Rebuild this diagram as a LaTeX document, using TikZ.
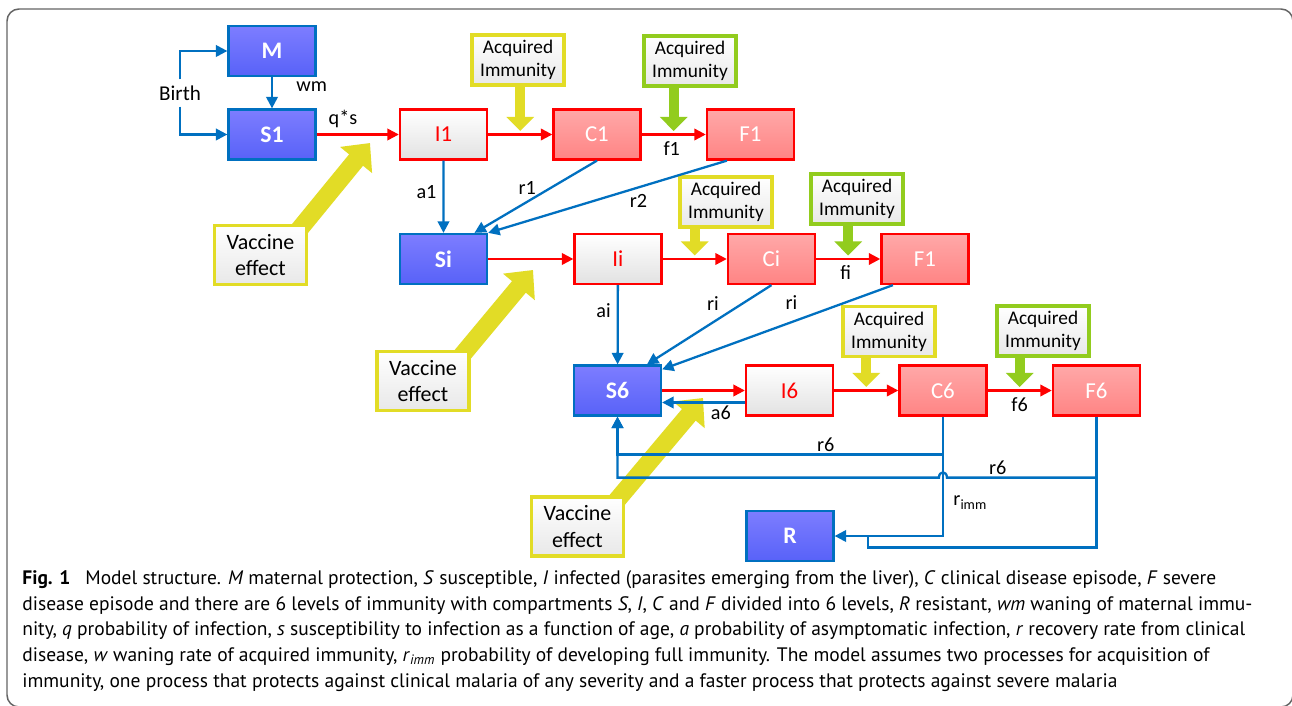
\documentclass[tikz,border=0pt]{standalone}
\usepackage{fontspec}
\setmainfont{Carlito}
\newfontfamily\capfont{PT Sans}
\usetikzlibrary{arrows.meta}
\pgfdeclarelayer{bg}
\pgfsetlayers{bg,main}

\definecolor{sblue}{RGB}{0,112,192}
\definecolor{stop}{RGB}{125,125,255}
\definecolor{sbot}{RGB}{88,98,248}
\definecolor{ired}{RGB}{255,0,0}
\definecolor{igray}{RGB}{226,226,226}
\definecolor{ctop}{RGB}{255,168,168}
\definecolor{cbot}{RGB}{255,132,132}
\definecolor{acqyel}{RGB}{226,220,38}
\definecolor{acqgrn}{RGB}{146,204,30}
\definecolor{framegray}{RGB}{100,100,100}

\tikzset{%
  >={Triangle[width=6.5pt,length=6.5pt]},
            base/.style = {rectangle, draw, line width=1.3pt,
                           minimum width=1.74cm, minimum height=1cm,
                           inner sep=0pt, text centered, font=\fontsize{13}{15}\selectfont},
  sbox/.style = {base, draw=sblue, top color=stop, bottom color=sbot, text=white,
                 font=\fontsize{13.5}{15}\selectfont\bfseries},
  ibox/.style = {base, draw=ired, top color=white, bottom color=igray, text=ired},
  cbox/.style = {base, draw=ired, top color=ctop, bottom color=cbot, text=white},
  note/.style = {base, line width=1.8pt, minimum width=1.84cm, top color=white,
                 bottom color=black!9, align=center},
  acqy/.style = {note, draw=acqyel, font=\fontsize{11}{13}\selectfont},
  acqg/.style = {note, draw=acqgrn, font=\fontsize{11}{13}\selectfont},
  vacc/.style = {note, draw=acqyel, minimum height=1.18cm, font=\fontsize{12.5}{15.3}\selectfont},
  lbl/.style  = {font=\fontsize{11.5}{13}\selectfont, text=black},
  barr/.style = {->, draw=sblue, line width=1.3pt},
  rarr/.style = {->, draw=ired, line width=1.3pt},
  immy/.style = {-{Triangle[width=0.54cm,length=0.28cm]}, draw=acqyel, line width=0.2cm},
  immg/.style = {-{Triangle[width=0.54cm,length=0.28cm]}, draw=acqgrn, line width=0.2cm},
  vacarr/.style = {-{Triangle[width=0.8cm,length=0.44cm]}, draw=acqyel, line width=0.36cm},
}

\begin{document}
\begin{tikzpicture}[x=0.02cm, y=-0.02cm, node distance=3.07cm]
  \useasboundingbox (0,0) rectangle (1292,706);
  \begin{pgfonlayer}{bg}
    \fill[white] (0,0) rectangle (1292,706);
  \end{pgfonlayer}
  \begin{scope}
    \clip (0,0) rectangle (1292,706);
    \draw[framegray, line width=0.85pt, rounded corners=0.24cm] (7,9) rectangle (1293,707);
  \end{scope}

  % compartments
  \node (nM)    [sbox]                               at (272,51)      {M};
  \node (nS1)   [sbox]                               at (272,134.5)   {S1};
  \node (nI1)   [ibox, right of=nS1, xshift=0.36cm]                   {I1};
  \node (nC1)   [cbox, right of=nI1]                                  {C1};
  \node (nF1)   [cbox, right of=nC1]                                  {F1};
  \node (nSi)   [sbox]                               at (443.5,259)   {Si};
  \node (nIi)   [ibox, right of=nSi, xshift=0.42cm]                   {Ii};
  \node (nCi)   [cbox, right of=nIi]                                  {Ci};
  \node (nFi)   [cbox, right of=nCi]                                  {F1};
  \node (nS6)   [sbox]                               at (617.5,390.5) {S6};
  \node (nI6)   [ibox, right of=nS6, xshift=0.37cm]                   {I6};
  \node (nC6)   [cbox, right of=nI6]                                  {C6};
  \node (nF6)   [cbox, right of=nC6]                                  {F6};
  \node (nR)    [sbox]                               at (790,536)     {R};

  % acquired immunity and vaccine notes
  \node (ay1)   [acqy] at (518,60)      {Acquired\\Immunity};
  \node (ag1)   [acqg] at (690,61)      {Acquired\\Immunity};
  \node (ay2)   [acqy] at (726,202)     {Acquired\\Immunity};
  \node (ag2)   [acqg] at (857,199)     {Acquired\\Immunity};
  \node (ay3)   [acqy] at (889,331.5)   {Acquired\\Immunity};
  \node (ag3)   [acqg] at (1043,331)    {Acquired\\Immunity};
  \node (v1)    [vacc] at (260.5,255)   {Vaccine\\effect};
  \node (v2)    [vacc] at (423,381)     {Vaccine\\effect};
  \node (v3)    [vacc] at (577.5,526.5) {Vaccine\\effect};
  \node (nBirth) [lbl, font=\fontsize{12}{14}\selectfont] at (180,93) {Birth};

  \path (nI1) -- (nC1) coordinate[midway] (m1y);
  \path (nC1) -- (nF1) coordinate[midway] (m1g);
  \path (nIi) -- (nCi) coordinate[midway] (m2y);
  \path (nCi) -- (nFi) coordinate[midway] (m2g);
  \path (nI6) -- (nC6) coordinate[midway] (m3y);
  \path (nC6) -- (nF6) coordinate[midway] (m3g);
  \coordinate (vt1) at (370,143);
  \coordinate (vt2) at (533,270);
  \coordinate (vt3) at (703,398);

  \begin{pgfonlayer}{bg}
    \draw[immy] (ay1.south -| m1y) -- ([yshift=2pt]m1y);
    \draw[immg] (ag1.south -| m1g) -- ([yshift=2pt]m1g);
    \draw[immy] (ay2.south -| m2y) -- ([yshift=2pt]m2y);
    \draw[immg] (ag2.south -| m2g) -- ([yshift=2pt]m2g);
    \draw[immy] (ay3.south -| m3y) -- ([yshift=2pt]m3y);
    \draw[immg] (ag3.south -| m3g) -- ([yshift=2pt]m3g);
    \draw[vacarr] ([xshift=-0.25cm,yshift=-0.2cm]v1.north east) -- (vt1);
    \draw[vacarr] ([xshift=-0.25cm,yshift=-0.2cm]v2.north east) -- (vt2);
    \draw[vacarr] ([xshift=-0.25cm,yshift=-0.2cm]v3.north east) -- (vt3);
  \end{pgfonlayer}

  % birth and maternal protection
  \draw[barr] (nBirth) |- (nM);
  \draw[barr] (nBirth) |- (nS1);
  \draw[barr] (nM) -- node[lbl, pos=0.3, right=0.35cm] {wm} (nS1);

  % infection chain
  \draw[rarr] (nS1) -- node[lbl, pos=0.32, above] {q*s} (nI1);
  \draw[rarr] (nI1) -- (nC1);
  \draw[rarr] (nC1) -- node[lbl, pos=0.47, below] {f1} (nF1);
  \draw[rarr] (nSi) -- (nIi);
  \draw[rarr] (nIi) -- (nCi);
  \draw[rarr] (nCi) -- node[lbl, pos=0.46, below] {fi} (nFi);
  \draw[rarr] (nS6) -- (nI6);
  \draw[rarr] (nI6) -- (nC6);
  \draw[rarr] (nC6) -- node[lbl, pos=0.5, below] {f6} (nF6);

  % recovery
  \draw[barr] (nI1) -- node[lbl, pos=0.43, left] {a1} (nSi);
  \draw[barr] (nC1.south) -- node[lbl, pos=0.57, above] {r1} ([xshift=0.62cm]nSi.north);
  \draw[barr] ([xshift=-0.47cm]nF1.south) -- node[lbl, pos=0.37, below] {r2} (nSi.north east);
  \draw[barr] (nIi) -- node[lbl, pos=0.32, left] {ai} (nS6);
  \draw[barr] (nCi.south) -- node[lbl, pos=0.47, above=3pt] {ri} ([xshift=0.59cm]nS6.north);
  \draw[barr] ([xshift=-0.64cm]nFi.south) -- node[lbl, pos=0.44, above=3pt] {ri} ([yshift=-0.1cm]nS6.north east);
  \draw[barr] ([yshift=-0.24cm]nI6.west) -- node[lbl, pos=0.29, below=-2pt] {a6} ([yshift=-0.24cm]nS6.east);

  \path (nC6.south) ++(0,38) coordinate (jc6);
  \path (nF6.south) ++(0,61) coordinate (jf6);
  \path (nF6.south) ++(0,131) coordinate (jr);
  \path (nR.east) ++(33,0) coordinate (rj);
  \coordinate (hop) at (jf6 -| nC6.south);
  \draw[barr] (nC6.south) |- node[lbl, pos=0.36, right=2pt] {r\textsubscript{imm}} (nR);
  \draw[barr] (jc6) -| node[lbl, pos=0.18, above=-2pt] {r6} (nS6.south);
  \draw[barr] (jf6) -- node[lbl, pos=0.66, above=-2pt] {r6} ([xshift=0.08cm]hop)
    .. controls ([xshift=0.08cm,yshift=0.14cm]hop) and ([xshift=-0.08cm,yshift=0.14cm]hop) ..
    ([xshift=-0.08cm]hop) -| (nS6.south);
  \draw[sblue, line width=1.3pt] (nF6.south) -- (jr) -| (rj);

  % caption
  \node (caption) [anchor=north west, align=left, inner sep=0pt,
                   font=\capfont\fontsize{11.1}{14.7}\selectfont] at (22,570)
  {\textbf{Fig. 1}\hspace{0.5em} Model structure. \textit{M} maternal protection, \textit{S} susceptible, \textit{I} infected (parasites emerging from the liver), \textit{C} clinical disease episode, \textit{F} severe\\
   disease episode and there are 6 levels of immunity with compartments \textit{S}, \textit{I}, \textit{C} and \textit{F} divided into 6 levels, \textit{R} resistant, \textit{wm} waning of maternal immu-\\
   nity, \textit{q} probability of infection, \textit{s} susceptibility to infection as a function of age, \textit{a} probability of asymptomatic infection, \textit{r} recovery rate from clinical\\
   disease, \textit{w} waning rate of acquired immunity, \textit{r}\textsubscript{\textit{imm}} probability of developing full immunity. The model assumes two processes for acquisition of\\
   immunity, one process that protects against clinical malaria of any severity and a faster process that protects against severe malaria};
\end{tikzpicture}
\end{document}
